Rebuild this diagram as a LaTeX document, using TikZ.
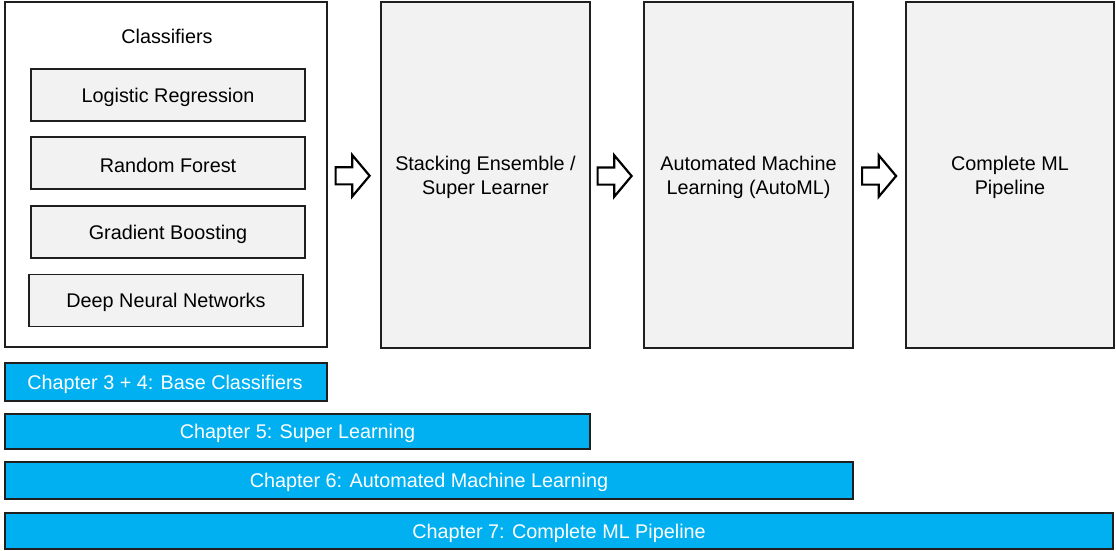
\documentclass[tikz,border=0pt]{standalone}
\usepackage{fontspec}
\setmainfont{Liberation Sans}
\usetikzlibrary{shapes.arrows,calc}
\definecolor{boxfill}{HTML}{F2F2F2}
\definecolor{chapblue}{HTML}{00B0F0}
\definecolor{edge}{HTML}{1F1F1F}
\tikzset{
  txt/.style={font=\fontsize{19.8}{24}\selectfont, align=center, inner sep=0pt},
  lbl/.style={txt, yshift=-2pt},
  frame/.style={draw=edge, line width=1.3pt, inner sep=0pt, outer sep=0pt},
  stage/.style={frame, fill=boxfill},
  algo/.style={frame, fill=boxfill, minimum width=274pt, minimum height=52pt},
  chapter/.style={draw=edge, line width=1.3pt, fill=chapblue,
                  inner sep=0pt, outer sep=0pt},
  flow/.style={single arrow, draw=black, line width=2.2pt, fill=white,
               minimum height=34pt, inner sep=7.5pt,
               single arrow head extend=12pt, single arrow tip angle=100},
}
\begin{document}
\begin{tikzpicture}[x=1pt,y=-1pt]
\useasboundingbox (0,0) rectangle (1116,551);

% base classifier group
\node[frame, fill=white, minimum width=322pt, minimum height=345pt] (cls) at (166,174.5) {};
\node[txt] (clstitle) at (167,36.5) {Classifiers};
\node[algo] (lr)  at (168,95)  {};
\node[algo] (rf)  at (168,163) {};
\node[algo] (gb)  at (168,232) {};
\node[algo] (dnn) at (166,300.5) {};
\node[lbl] (lrtxt)  at (lr.center)  {Logistic Regression};
\node[lbl] (rftxt)  at (rf.center)  {Random Forest};
\node[lbl] (gbtxt)  at (gb.center)  {Gradient Boosting};
\node[lbl] (dnntxt) at (dnn.center) {Deep Neural Networks};

% later stages
\node[stage, minimum width=209pt, minimum height=346pt] (stk) at (485.5,175) {};
\node[stage, minimum width=209pt, minimum height=346pt] (aml) at (748.5,175) {};
\node[stage, minimum width=208pt, minimum height=346pt] (pipe) at (1010,175) {};
\node[lbl] (stktxt)  at (stk.center)  {Stacking Ensemble /\\Super Learner};
\node[lbl] (amltxt)  at (aml.center)  {Automated Machine\\Learning (AutoML)};
\node[lbl] (pipetxt) at (pipe.center) {Complete ML\\Pipeline};

% flow arrows between stages
\node[flow] (a1) at ($(cls.east)!0.5!(stk.west)+(-5,1)$) {};
\node[flow] (a2) at ($(stk.east)!0.5!(aml.west)+(-6,1)$) {};
\node[flow] (a3) at ($(aml.east)!0.5!(pipe.west)+(-4,1)$) {};

% chapter bars
\node[chapter, minimum width=322pt, minimum height=38pt, anchor=north west] (ch34) at (5,363) {};
\node[chapter, minimum width=585pt, minimum height=35pt, anchor=north west] (ch5) at (5,414) {};
\node[chapter, minimum width=848pt, minimum height=37pt, anchor=north west] (ch6) at (5,462) {};
\node[chapter, minimum width=1108pt, minimum height=36pt, anchor=north west] (ch7) at (5,513) {};
\node[lbl, text=white] (ch34txt) at ($(ch34.center)+(-1,0)$) {Chapter 3 + 4: Base Classifiers};
\node[lbl, text=white] (ch5txt) at (ch5.center) {Chapter 5: Super Learning};
\node[lbl, text=white] (ch6txt) at (ch6.center) {Chapter 6: Automated Machine Learning};
\node[lbl, text=white] (ch7txt) at (ch7.center) {Chapter 7: Complete ML Pipeline};
\end{tikzpicture}
\end{document}
